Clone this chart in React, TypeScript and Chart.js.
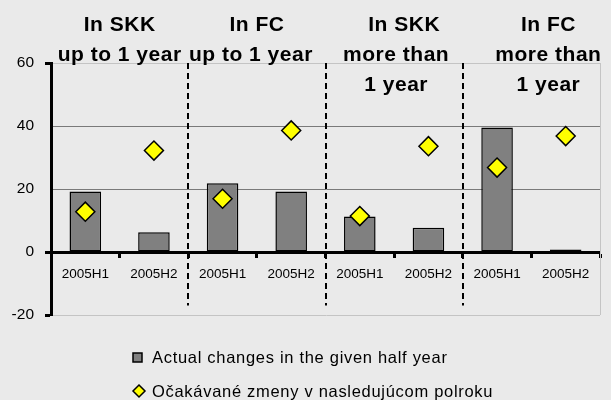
import React, { useEffect, useRef } from "react";
import { Chart, registerables } from "chart.js";

Chart.register(...registerables);

const FONT = "'Liberation Sans', Arial, Helvetica, sans-serif";

// ---- data ----
const categories = ["2005H1", "2005H2", "2005H1", "2005H2", "2005H1", "2005H2", "2005H1", "2005H2"];
const actualChanges = [19.2, 6.3, 21.8, 19.2, 11.3, 7.7, 39.5, 0.8];
const expectedChanges = [12.8, 32.2, 16.9, 38.6, 11.4, 33.6, 26.8, 36.8];
const groupTitles = [
  ["In SKK", "up to 1 year"],
  ["In FC", "up to 1 year"],
  ["In SKK", "more than", "1 year"],
  ["In FC", "more than", "1 year"],
];
const seriesNames = ["Actual changes in the given half year", "Očakávané zmeny v nasledujúcom polroku"];
const yMin = -20;
const yMax = 60;
const yStep = 20;
const separatorBottomValue = -17;

// ---- layout (not data) ----
const titleOffsets = [
  [0, 0],
  [0, -6],
  [10, 2, 2],
  [17, 17, 17],
];
const legendX = 133;
const legendBaselines = [363, 397];

const decorPlugin = {
  id: "decor",
  beforeDatasetsDraw(chart: any) {
    const { ctx, chartArea } = chart;
    ctx.save();
    ctx.strokeStyle = "#c4c4c4";
    ctx.lineWidth = 1;
    ctx.beginPath();
    ctx.moveTo(chartArea.right + 0.5, chartArea.top);
    ctx.lineTo(chartArea.right + 0.5, chartArea.bottom);
    ctx.stroke();
    ctx.restore();
  },
  afterDraw(chart: any) {
    const { ctx } = chart;
    const x = chart.scales.x;
    const y = chart.scales.y;
    ctx.save();
    // dashed group separators
    ctx.strokeStyle = "#000";
    ctx.lineWidth = 2;
    ctx.setLineDash([6, 4]);
    for (let g = 1; g < groupTitles.length; g++) {
      const px = Math.round((x.getPixelForValue(2 * g - 1) + x.getPixelForValue(2 * g)) / 2);
      ctx.beginPath();
      ctx.moveTo(px, y.getPixelForValue(yMax));
      ctx.lineTo(px, y.getPixelForValue(separatorBottomValue));
      ctx.stroke();
    }
    ctx.setLineDash([]);

    // group headers
    const top = y.getPixelForValue(yMax);
    ctx.font = `bold 21px ${FONT}`;
    ctx.fillStyle = "#000";
    ctx.textAlign = "center";
    ctx.textBaseline = "alphabetic";
    (ctx as any).letterSpacing = "0.5px";
    groupTitles.forEach((lines, g) => {
      const cx = (x.getPixelForValue(2 * g) + x.getPixelForValue(2 * g + 1)) / 2;
      lines.forEach((t, i) => {
        ctx.fillText(t, cx + titleOffsets[g][i], top - 32 + i * 30);
      });
    });

    // legend
    (ctx as any).letterSpacing = "0.7px";
    ctx.font = `16.5px ${FONT}`;
    ctx.textAlign = "left";
    ctx.fillStyle = "#000";
    // row 1: square
    const b1 = legendBaselines[0];
    ctx.fillStyle = "#808080";
    ctx.strokeStyle = "#000";
    ctx.lineWidth = 1.5;
    ctx.fillRect(legendX, b1 - 10, 9, 9);
    ctx.strokeRect(legendX, b1 - 10, 9, 9);
    ctx.fillStyle = "#000";
    ctx.fillText(seriesNames[0], legendX + 19, b1);
    // row 2: diamond
    const b2 = legendBaselines[1];
    const dc = legendX + 6;
    const dy = b2 - 6;
    ctx.beginPath();
    ctx.moveTo(dc, dy - 6);
    ctx.lineTo(dc + 6, dy);
    ctx.lineTo(dc, dy + 6);
    ctx.lineTo(dc - 6, dy);
    ctx.closePath();
    ctx.fillStyle = "#ffff00";
    ctx.fill();
    ctx.stroke();
    ctx.fillStyle = "#000";
    ctx.fillText(seriesNames[1], legendX + 19, b2);
    ctx.restore();
  },
};

export default function App() {
  const ref = useRef<HTMLCanvasElement>(null);

  useEffect(() => {
    if (!ref.current) return;
    const chart = new Chart(ref.current, {
      type: "bar",
      data: {
        labels: categories,
        datasets: [
          {
            type: "bar",
            label: seriesNames[0],
            data: actualChanges,
            backgroundColor: "#808080",
            borderColor: "#000",
            borderWidth: 1.5,
            borderSkipped: false,
            barPercentage: 0.46,
            categoryPercentage: 1,
            order: 2,
          } as any,
          {
            type: "line",
            label: seriesNames[1],
            data: expectedChanges,
            showLine: false,
            pointStyle: "rectRot",
            pointRadius: 9.5,
            pointBackgroundColor: "#ffff00",
            pointBorderColor: "#000",
            pointBorderWidth: 1.5,
            order: 1,
          } as any,
        ],
      },
      options: {
        animation: false,
        responsive: true,
        maintainAspectRatio: false,
        layout: { padding: { top: 63, bottom: 85, left: 0, right: 5 } },
        plugins: {
          legend: { display: false },
          tooltip: { enabled: false },
        },
        scales: {
          x: {
            position: { y: 0 } as any,
            offset: true,
            ticks: {
              color: "#000",
              font: { family: FONT, size: 13.5 },
              padding: 10,
              maxRotation: 0,
              autoSkip: false,
            },
            grid: {
              display: true,
              offset: true,
              drawOnChartArea: false,
              drawTicks: true,
              tickLength: 4,
              tickWidth: 3,
              tickColor: "#000",
            },
            border: { display: true, color: "#000", width: 3 },
          },
          y: {
            min: yMin,
            max: yMax,
            ticks: {
              stepSize: yStep,
              color: "#000",
              font: { family: FONT, size: 15.5 },
              padding: 11,
            },
            grid: {
              color: (c: any) => {
                const v = c.tick ? c.tick.value : null;
                if (v === 0) return "rgba(0,0,0,0)";
                if (v === yMax || v === yMin) return "#c4c4c4";
                return "#7a7a7a";
              },
              lineWidth: 1,
              drawTicks: true,
              tickLength: 6,
              tickWidth: 3,
              tickColor: (c: any) => {
                const v = c.tick ? c.tick.value : null;
                return v === yMax || v === yMin || v === 0 ? "#000" : "rgba(0,0,0,0)";
              },
            },
            border: { display: true, color: "#000", width: 3 },
            afterFit: (s: any) => {
              s.width = 51;
            },
          },
        },
      },
      plugins: [decorPlugin],
    });
    return () => chart.destroy();
  }, []);

  return (
    <div
      style={{
        position: "fixed",
        left: 0,
        top: 0,
        width: 611,
        height: 400,
        background: "#eaeaea",
      }}
    >
      <canvas ref={ref} />
    </div>
  );
}
